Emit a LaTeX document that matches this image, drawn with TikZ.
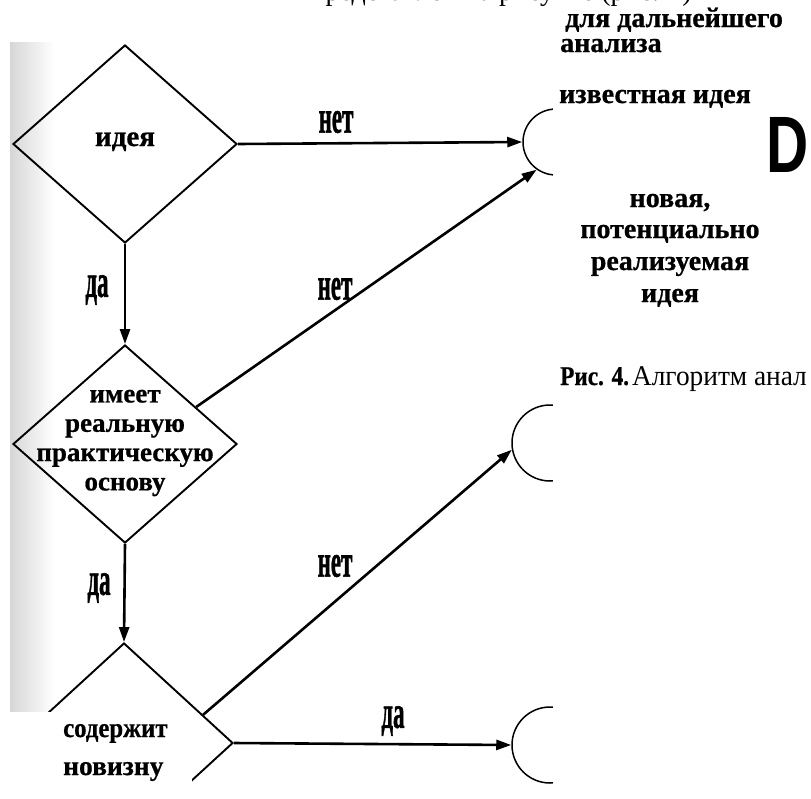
\documentclass[tikz,border=0pt]{standalone}
\usepackage{fontspec}
\setmainfont{Liberation Serif}
\newfontfamily\headsans{Liberation Sans}
% heavier bold face for the printed labels
\newfontfamily\heavyserif{Liberation Serif}[BoldFeatures={FakeBold=0.7}]
\newfontfamily\lblserif{Liberation Serif}[BoldFeatures={FakeBold=1.4}]
\usetikzlibrary{shapes.geometric,arrows.meta,calc}
% tall, narrow lettering of the branch labels
\newcommand\narrowlbl[1]{\scalebox{0.5}[1]{#1}}

\begin{document}
\begin{tikzpicture}[x=1pt,y=-1pt,
  dia/.style={diamond,draw,line width=1.9pt,inner sep=0pt,
              minimum width=224pt,minimum height=198pt},
  term/.style={circle,draw,line width=1.5pt,inner sep=0pt},
  arr/.style={line width=2.6pt,-{Triangle[length=15pt,width=10pt]}},
  cover/.style={fill=white,inner sep=0pt,outer sep=0pt,anchor=north west},
  lbl/.style={inner sep=0pt,font=\lblserif\bfseries\fontsize{46}{46}\selectfont},
  dtext/.style={inner sep=0pt,align=center,font=\heavyserif\bfseries\fontsize{27}{29.3}\selectfont},
  side/.style={inner sep=0pt,font=\heavyserif\bfseries\fontsize{28}{28}\selectfont},
  box/.style={inner sep=0pt,anchor=base west,font=\heavyserif\bfseries\fontsize{27.5}{27.5}\selectfont},
]
\clip (0,0) rectangle (811,798);
\fill[white] (0,0) rectangle (811,798);

% shaded page edge along the left
\shade[left color=black!16,right color=white] (10,42) rectangle (54,712);

% decision diamonds
\node[dia] (d1) at (125,144) {};
\node[dia] (d2) at (125,444) {};
\node[dia,minimum width=218pt,minimum height=200pt] (d3) at (124,743) {};

% terminal ends
\node[term,minimum size=66pt] (e1) at (556,142) {};
\node[term,minimum size=76pt] (e2) at (550,443) {};
\node[term,minimum size=76pt] (e3) at (550,745) {};

% right-hand column pasted over the terminals
\node[cover,minimum width=258pt,minimum height=798pt] (rc) at (553,0) {};

% flow
\draw[arr] (d1.south) -- (d2.north);
\draw[arr] (d2.south) -- (d3.north);
\draw[arr] (d1.east) -- (e1.west);
\draw[arr] ($(d2.north)!0.63!(d2.east)$) -- (e1.235);
\draw[arr] ($(d3.north)!0.72!(d3.east)$) -- (e2.190);
\draw[arr] (d3.east) -- (e3.west);

% branch labels
\node[lbl] (n1) at (336,122) {\narrowlbl{нет}};
\node[lbl] (n2) at (335,289) {\narrowlbl{нет}};
\node[lbl] (n3) at (335,566) {\narrowlbl{нет}};
\node[lbl] (y1) at (97,290) {\narrowlbl{да}};
\node[lbl] (y2) at (99,588) {\narrowlbl{да}};
\node[lbl] (y3) at (393,721) {\narrowlbl{да}};

% diamond texts
\node[inner sep=0pt,anchor=base,font=\heavyserif\bfseries\fontsize{29}{29}\selectfont] (t1) at (125,146) {идея};
\node[dtext] (t2) at (125,443) {имеет\\реальную\\практическую\\основу};
\node[cover,minimum width=192pt,minimum height=90pt] (c3) at (0,712) {};
\node[box] (t3a) at (63,737) {\scalebox{0.9}[1]{содержит}};
\node[box] (t3b) at (63,775) {новизну};

% right-hand column
\node[inner sep=0pt,anchor=base east,font=\fontsize{28}{28}\selectfont] (top) at (692,0) {представлен на рисунке (рис. 4)};
\node[side,anchor=base west] (s1) at (565,27) {для дальнейшего};
\node[side,anchor=base west] (s2) at (560,52) {анализа};
\node[side,anchor=base west] (s3) at (559,103) {известная идея};
\node[side,anchor=base] (s4) at (670,207) {новая,};
\node[side,anchor=base] (s5) at (670,238) {потенциально};
\node[side,anchor=base] (s6) at (670,270) {реализуемая};
\node[side,anchor=base] (s7) at (670,302) {идея};
\node[inner sep=0pt,anchor=base west,font=\headsans\bfseries\fontsize{80}{80}\selectfont] (bigd) at (766,172) {\scalebox{0.73}[1]{D}};
\node[inner sep=0pt,anchor=base west] (cap) at (560,385)
  {\fontsize{27}{27}\selectfont\scalebox{0.86}[1]{\heavyserif\bfseries Рис. 4.}\hspace{3pt}\fontsize{28.5}{28.5}\selectfont\scalebox{0.96}[1]{Алгоритм анал}};
\end{tikzpicture}
\end{document}
